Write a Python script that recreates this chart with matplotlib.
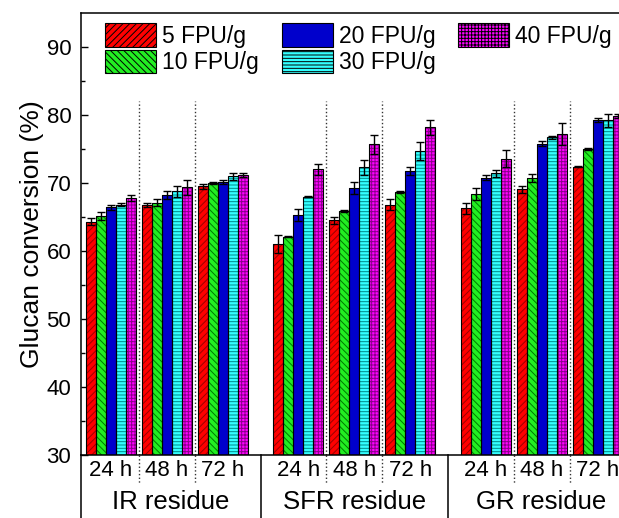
import numpy as np
import matplotlib.pyplot as plt

plt.rcParams['font.family'] = ['Liberation Sans', 'DejaVu Sans']
plt.rcParams['hatch.linewidth'] = 0.7

residues = ['IR residue', 'SFR residue', 'GR residue']
times = ['24 h', '48 h', '72 h']
loadings = ['5 FPU/g', '10 FPU/g', '20 FPU/g', '30 FPU/g', '40 FPU/g']

# glucan conversion (%), order: IR 24/48/72, SFR 24/48/72, GR 24/48/72
conv_5 = [64.3, 66.8, 69.5, 61.0, 64.5, 66.8, 66.3, 69.1, 72.4]
conv_10 = [65.2, 67.1, 70.0, 62.1, 65.9, 68.7, 68.4, 70.7, 75.0]
conv_20 = [66.4, 68.2, 70.2, 65.3, 69.3, 71.8, 70.8, 75.8, 79.2]
conv_30 = [66.8, 68.8, 71.0, 68.0, 72.3, 74.7, 71.4, 76.7, 79.2]
conv_40 = [67.8, 69.4, 71.2, 72.0, 75.7, 78.2, 73.6, 77.2, 79.9]

err_5 = [0.5, 0.3, 0.4, 1.3, 0.5, 0.8, 0.8, 0.5, 0.1]
err_10 = [0.6, 0.5, 0.2, 0.1, 0.1, 0.1, 0.9, 0.6, 0.1]
err_20 = [0.3, 0.6, 0.3, 0.9, 0.9, 0.6, 0.4, 0.4, 0.3]
err_30 = [0.2, 0.8, 0.5, 0.1, 1.1, 1.3, 0.5, 0.2, 0.9]
err_40 = [0.5, 1.1, 0.3, 0.8, 1.4, 1.1, 1.3, 1.6, 0.3]

values = [conv_5, conv_10, conv_20, conv_30, conv_40]
errors = [err_5, err_10, err_20, err_30, err_40]

facecol = ['#ff0000', '#22ee22', '#0000cc', '#33ffff', '#ff00ff']
hatchcol = ['#990000', '#007700', '#000099', '#008888', '#880088']
hatches = ['/////', '\\\\\\\\\\', None, '-----', '+++++']

# layout (1 unit ~ one bar width)
bar_w = 1.0
time_step = 5.6
res_step = 18.73

fig = plt.figure(figsize=(6.19, 5.18), dpi=100)
ax = fig.add_axes([81 / 619, 63 / 518, 555 / 619, 442 / 518])

group_left = np.array([r * res_step + t * time_step for r in range(3) for t in range(3)])

for i in range(5):
    x = group_left + i * bar_w + bar_w / 2
    ax.bar(x, values[i], width=bar_w, bottom=0, color=facecol[i],
           edgecolor=hatchcol[i], hatch=hatches[i], linewidth=0, zorder=2)
    ax.bar(x, values[i], width=bar_w, fill=False, edgecolor='black',
           linewidth=0.8, zorder=3)
    ax.errorbar(x, values[i], yerr=errors[i], fmt='none', ecolor='black',
                elinewidth=1, capsize=3, capthick=1, zorder=4)
    # legend proxy
    ax.bar([0], [0], width=0, color=facecol[i], edgecolor='black',
           hatch=hatches[i], linewidth=0.8, label=loadings[i])

ax.set_xlim(-0.5, 55.0)
ax.set_ylim(30, 95)
ax.set_yticks(np.arange(30, 91, 10))
ax.set_yticks(np.arange(35, 95, 10), minor=True)
ax.set_xticks([])
ax.tick_params(axis='y', which='major', direction='in', length=5, width=1,
               labelsize=16, pad=7)
ax.tick_params(axis='y', which='minor', direction='in', length=3, width=1)
for sp in ax.spines.values():
    sp.set_linewidth(1.1)
ax.set_ylabel('Glucan conversion (%)', fontsize=19, labelpad=2)

trans = ax.get_xaxis_transform()
group_w = 2 * time_step + 5 * bar_w
for r in range(3):
    base = r * res_step
    # dotted separators between time points
    for t in range(2):
        xs = base + t * time_step + 5 * bar_w + (time_step - 5 * bar_w) / 2
        ax.plot([xs, xs], [30, 82], color='#333333', linestyle=':',
                linewidth=1, zorder=1)
        ax.plot([xs, xs], [0, -0.065], color='#333333', linestyle=':',
                linewidth=1, transform=trans, clip_on=False)
    for t in range(3):
        ax.text(base + t * time_step + 2.5 * bar_w, -0.036, times[t],
                transform=trans, ha='center', va='center', fontsize=16)
    # solid separator after each residue block
    sep = base + group_w + (res_step - group_w) / 2
    ax.plot([sep, sep], [0, -0.2], color='black', linewidth=1.1,
            transform=trans, clip_on=False)
    left = -0.5 if r == 0 else base - (res_step - group_w) / 2
    ax.text((left + sep) / 2, -0.106, residues[r], transform=trans,
            ha='center', va='center', fontsize=18.5)

ax.plot([-0.5, -0.5], [0, -0.2], color='black', linewidth=1.1,
        transform=trans, clip_on=False)

ax.legend(loc='upper left', bbox_to_anchor=(0.043, 0.977), ncol=3,
          fontsize=16.5, frameon=False, handlelength=2.23, handleheight=1.2,
          handletextpad=0.26, labelspacing=0.1, columnspacing=1.0,
          borderaxespad=0, borderpad=0)

plt.savefig('out.png', dpi=100)
